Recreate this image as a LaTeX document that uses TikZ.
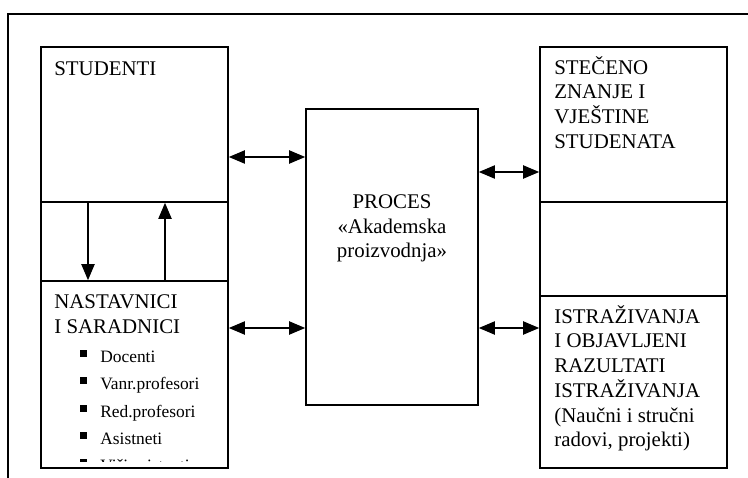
\documentclass[tikz,border=0pt]{standalone}
\usepackage{fontspec}
\setmainfont{Liberation Serif}
\usetikzlibrary{arrows.meta,fit}
\tikzset{
  blok/.style={draw, line width=0.95pt, inner sep=0pt},
  veza/.style={line width=0.75pt, {Triangle[length=9.2pt,width=7.6pt]}-{Triangle[length=9.2pt,width=7.6pt]}},
  smjer/.style={line width=0.75pt, -{Triangle[length=9.2pt,width=7.6pt]}},
  tekst/.style={anchor=north west, inner sep=0pt, align=left, font=\fontsize{12}{14.2}\selectfont},
  stavka/.style={anchor=base west, inner sep=0pt, font=\fontsize{10}{12}\selectfont},
}
\begin{document}
\begin{tikzpicture}[x=0.575pt,y=0.575pt,yscale=-1,xscale=1]
	\useasboundingbox (0,0) rectangle (748,478);

	% Frame
	\draw [line width=0.9pt] (748,14) -- (8,14) -- (8,478);

	% Left column
	\node [blok, fit={(41,47) (228,202)}] (studenti) {};
	\node [blok, fit={(41,202) (228,281)}] (veza1) {};
	\node [blok, fit={(41,281) (228,468)}] (nastavnici) {};
	% Process
	\node [blok, fit={(306,109) (478,405)}] (proces) {};
	% Right column
	\node [blok, fit={(540,47) (727,202)}] (znanje) {};
	\node [blok, fit={(540,202) (727,296)}] (veza2) {};
	\node [blok, fit={(540,296) (727,468)}] (istrazivanja) {};

	% Text Node
	\node [tekst] (t-studenti) at (54,61.4) {STUDENTI};
	% Text Node
	\node [tekst] (t-nastavnici) at (54,294.4) {NASTAVNICI\\I SARADNICI};
	% Text Node
	\node [tekst, anchor=north, align=center] (t-proces) at (392,194.4) {PROCES\\«Akademska\\proizvodnja»};
	% Text Node
	\node [tekst] (t-znanje) at (554,56) {STEČENO\\ZNANJE I\\VJEŠTINE\\STUDENATA};
	% Text Node
	\node [tekst] (t-istrazivanja) at (554,305) {ISTRAŽIVANJA\\I OBJAVLJENI\\RAZULTATI\\ISTRAŽIVANJA\\(Naučni i stručni\\radovi, projekti)};

	% Bullet list
	\foreach \y/\ime in {362/Docenti, 389/Vanr.profesori, 417/Red.profesori, 444/Asistneti}{
		\fill (80,\y-12) rectangle ++(6.5,6.5);
		\node [stavka] (stavka\y) at (100,\y) {\ime};
	}
	\begin{scope}
		\clip (41,281) rectangle (228,461);
		\fill (80,459) rectangle ++(6.5,6.5);
		\node [stavka] (stavka471) at (100,471) {Viši asistenti};
	\end{scope}

	% Arrows
	\coordinate (y1) at (0,157);
	\coordinate (y2) at (0,172);
	\coordinate (y3) at (0,328);
	\coordinate (x1) at (88,0);
	\coordinate (x2) at (165,0);
	\draw [veza] (studenti.east |- y1) -- (proces.west |- y1);
	\draw [veza] (proces.east |- y2) -- (znanje.west |- y2);
	\draw [veza] (nastavnici.east |- y3) -- (proces.west |- y3);
	\draw [veza] (proces.east |- y3) -- (istrazivanja.west |- y3);
	\draw [smjer] (studenti.south -| x1) -- (nastavnici.north -| x1);
	\draw [smjer] (nastavnici.north -| x2) -- (studenti.south -| x2);

\end{tikzpicture}
\end{document}
